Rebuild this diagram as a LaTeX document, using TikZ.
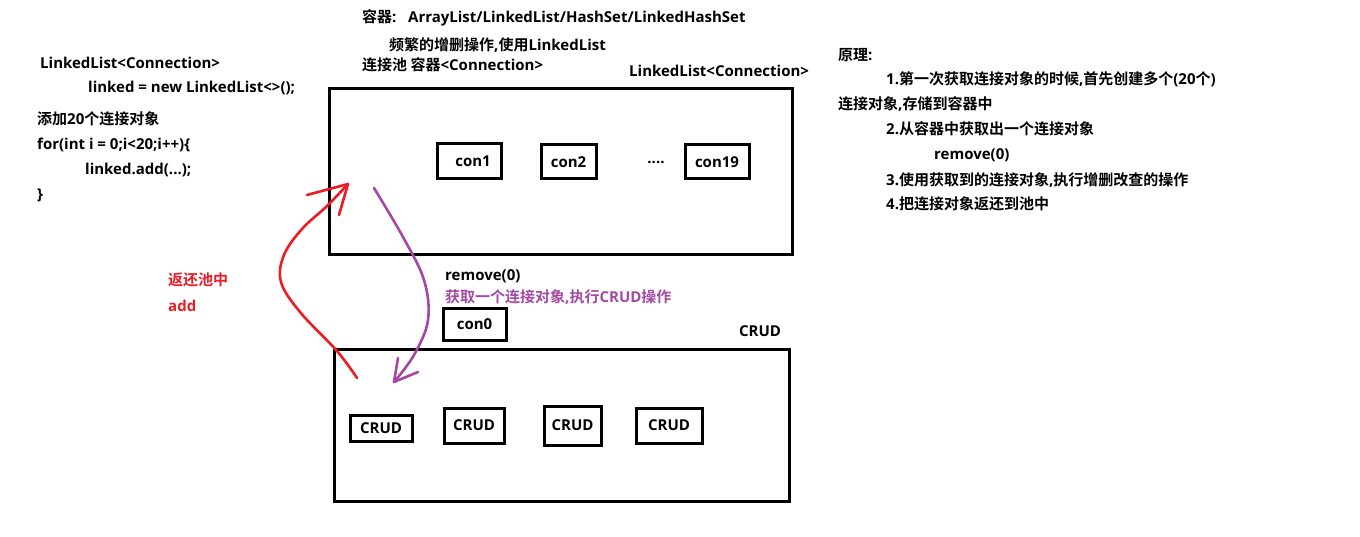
\documentclass[tikz,border=0pt]{standalone}
\usepackage{fontspec}
\setmainfont{Open Sans}[BoldFont={* Bold}]
\newfontfamily\cjk{Noto Sans CJK SC}[BoldFont={* Bold}]
\definecolor{pred}{HTML}{ED1C24}
\definecolor{ppur}{HTML}{A349A4}
\begin{document}
\begin{tikzpicture}[x=1pt,y=-1pt,
  txt/.style={anchor=west,inner sep=0pt,font=\fontsize{15}{17}\selectfont\bfseries},
  bigbox/.style={draw,line width=3pt},
  smallbox/.style={draw,line width=3pt,inner sep=0pt,font=\fontsize{15}{17}\selectfont\bfseries},
  freearrow/.style={line width=2.6pt,line cap=round,line join=round}]
\useasboundingbox[fill=white] (0,0) rectangle (1360,537);
% left code
\node[txt] (l1) at (40,63) {LinkedList<Connection>};
\node[txt] (l2) at (88,88) {linked = new LinkedList<>();};
\node[txt] (l3) at (37,119) {{\cjk 添加}20{\cjk 个连接对象}};
\node[txt] (l4) at (37,145) {for(int i = 0;i<20;i++)\{};
\node[txt] (l5) at (85,170) {linked.add(...);};
\node[txt] (l6) at (37,195) {\}};
% top labels
\node[txt] (t1) at (362,18) {{\cjk 容器}:\ \ \ ArrayList/LinkedList/HashSet/LinkedHashSet};
\node[txt] (t2) at (389,45) {{\cjk 频繁的增删操作},{\cjk 使用}LinkedList};
\node[txt] (t3) at (362,65) {{\cjk 连接池 容器}<Connection>};
\node[txt] (t4) at (629,71) {LinkedList<Connection>};
% right principle
\node[txt] (r0) at (838,55) {{\cjk 原理}:};
\node[txt] (r1) at (886,79) {1.{\cjk 第一次获取连接对象的时候},{\cjk 首先创建多个}(20{\cjk 个})};
\node[txt] (r2) at (838,104) {{\cjk 连接对象},{\cjk 存储到容器中}};
\node[txt] (r3) at (886,129) {2.{\cjk 从容器中获取出一个连接对象}};
\node[txt] (r4) at (934,155) {remove(0)};
\node[txt] (r5) at (886,180) {3.{\cjk 使用获取到的连接对象},{\cjk 执行增删改查的操作}};
\node[txt] (r6) at (886,204) {4.{\cjk 把连接对象返还到池中}};
% top pool box
\node[bigbox,minimum width=463pt,minimum height=166pt,inner sep=0pt] (pool) at (560.5,172) {};
\node[smallbox,minimum width=64pt,minimum height=35pt] (c1) at (469,161.5) {\hspace*{8pt}con1};
\node[smallbox,minimum width=55pt,minimum height=34pt] (c2) at (568.5,162) {con2};
\node[txt,anchor=center] (dots) at (656,162) {....};
\node[smallbox,minimum width=64pt,minimum height=34pt] (c19) at (717,162) {con19};
% middle
\node[txt] (m1) at (445,276) {remove(0)};
\node[txt,text=ppur] (m2) at (445,297) {{\cjk 获取一个连接对象},{\cjk 执行}CRUD{\cjk 操作}};
\node[smallbox,minimum width=63pt,minimum height=32pt] (c0) at (474.5,324.5) {con0};
\node[txt,text=pred] (a1) at (168,280) {\cjk 返还池中};
\node[txt,text=pred] (a2) at (168,306) {add};
\node[txt,anchor=center] (crudlbl) at (760,331) {CRUD};
% bottom box
\node[bigbox,minimum width=455pt,minimum height=152pt,inner sep=0pt] (work) at (561.5,425.5) {};
\node[smallbox,minimum width=62pt,minimum height=26pt] (k1) at (381,428) {CRUD};
\node[smallbox,minimum width=60pt,minimum height=35pt] (k2) at (474,425.5) {CRUD};
\node[smallbox,minimum width=57pt,minimum height=39pt] (k3) at (572.5,425.5) {CRUD};
\node[smallbox,minimum width=66pt,minimum height=35pt] (k4) at (669,425.5) {CRUD};
% red return arrow
\coordinate (rs) at (357,378);
\coordinate (rt) at (348,184);
\coordinate (rh1) at (307,195);
\coordinate (rh2) at (339,215);
\draw[pred,freearrow] plot[smooth,tension=0.6] coordinates {(rs) (337,351) (300,312) (281,282) (284,255) (302,229) (327,206) (rt)};
\draw[pred,freearrow] (rh1) -- (rt) -- (rh2);
% purple take arrow
\coordinate (ps) at (374,188);
\coordinate (pt) at (394,382);
\coordinate (ph1) at (398,358);
\coordinate (ph2) at (418,372);
\draw[ppur,freearrow] plot[smooth,tension=0.6] coordinates {(ps) (403,237) (424,280) (428,320) (414,355) (pt)};
\draw[ppur,freearrow] (ph1) -- (pt) -- (ph2);
\end{tikzpicture}
\end{document}
